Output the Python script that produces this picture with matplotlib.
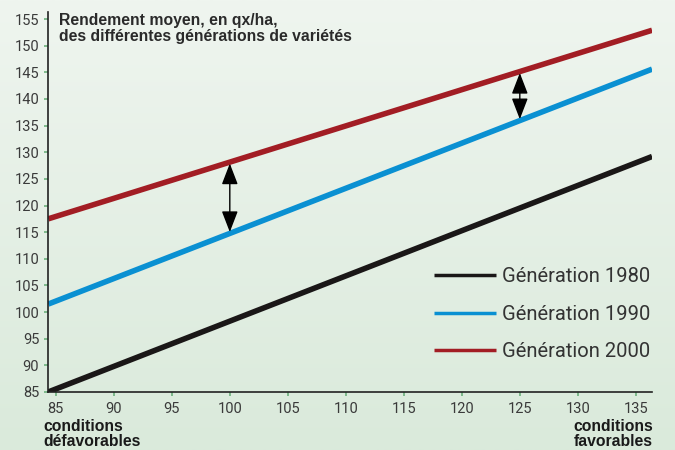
import numpy as np
import matplotlib
matplotlib.use("Agg")
import matplotlib.pyplot as plt
from matplotlib.colors import LinearSegmentedColormap

# Rendement moyen (qx/ha) aux deux bouts de l'axe des conditions
x_ends = [84.35, 136.4]
gen_1980 = [85.0, 129.2]
gen_1990 = [101.5, 145.6]
gen_2000 = [117.5, 152.9]
labels = ["Génération 1980", "Génération 1990", "Génération 2000"]
colors = ["#1a1717", "#0a90d2", "#a21d24"]

arrow_x = [100, 125]
xticks = list(range(85, 140, 5))
yticks = list(range(85, 160, 5))

plt.rcParams['font.family'] = ['Roboto', 'DejaVu Sans']

fig = plt.figure(figsize=(6.75, 4.5), dpi=100)

# fond en degrade vert pale
bg = fig.add_axes([0, 0, 1, 1], zorder=-10)
cmap = LinearSegmentedColormap.from_list("bg", ["#daeadb", "#eff5ef"])
grad = np.linspace(0, 1, 256).reshape(-1, 1)
bg.imshow(grad, aspect='auto', cmap=cmap, origin='lower', extent=[0, 1, 0, 1])
bg.axis('off')

ax = fig.add_axes([0.0715, 0.129, 0.8945, 0.844])
ax.patch.set_alpha(0)

series = [gen_1980, gen_1990, gen_2000]
for vals, lab, col in zip(series, labels, colors):
    ax.plot(x_ends, vals, color=col, lw=4, label=lab, solid_capstyle='butt')

# fleches d'ecart entre 1990 et 2000
for xa in arrow_x:
    y_lo = np.interp(xa, x_ends, gen_1990)
    y_hi = np.interp(xa, x_ends, gen_2000)
    ax.annotate("", xy=(xa, y_hi), xytext=(xa, y_lo),
                arrowprops=dict(arrowstyle='<|-|>,head_length=1.3,head_width=0.5',
                                color='black', lw=1.0, shrinkA=1, shrinkB=1))

ax.set_xlim(x_ends[0], x_ends[1])
ax.set_ylim(85, 156.3)
ax.set_xticks(xticks)
ax.set_yticks(yticks)
ax.tick_params(colors='#6cb07c', labelcolor='#3a3a3a', labelsize=10.5,
               length=3, width=1.2)
ax.tick_params(axis='x', pad=4)
for s in ['top', 'right']:
    ax.spines[s].set_visible(False)
for s in ['left', 'bottom']:
    ax.spines[s].set_color('#222222')
    ax.spines[s].set_linewidth(1.2)

leg = ax.legend(loc='lower right', bbox_to_anchor=(1.01, 0.06), frameon=False,
                fontsize=14.5, handlelength=3.05, handletextpad=0.3,
                labelspacing=0.92, borderaxespad=0)
for line in leg.get_lines():
    line.set_linewidth(2.5)
for t in leg.get_texts():
    t.set_color('#333333')

fig.text(0.088, 0.97, "Rendement moyen, en qx/ha,\ndes différentes générations de variétés",
         fontsize=11.3, fontweight='bold', color='#2a2a2a', va='top', ha='left',
         linespacing=1.05, family=['Liberation Sans', 'DejaVu Sans'])
fig.text(0.064, 0.003, "conditions\ndéfavorables", fontsize=11.3, fontweight='bold',
         color='#1a1a1a', va='bottom', ha='left', linespacing=0.95,
         family=['Liberation Sans', 'DejaVu Sans'])
fig.text(0.967, 0.003, "conditions\nfavorables", fontsize=11.3, fontweight='bold',
         color='#1a1a1a', va='bottom', ha='right', multialignment='right',
         linespacing=0.95, family=['Liberation Sans', 'DejaVu Sans'])

fig.savefig("out.png", dpi=100)
